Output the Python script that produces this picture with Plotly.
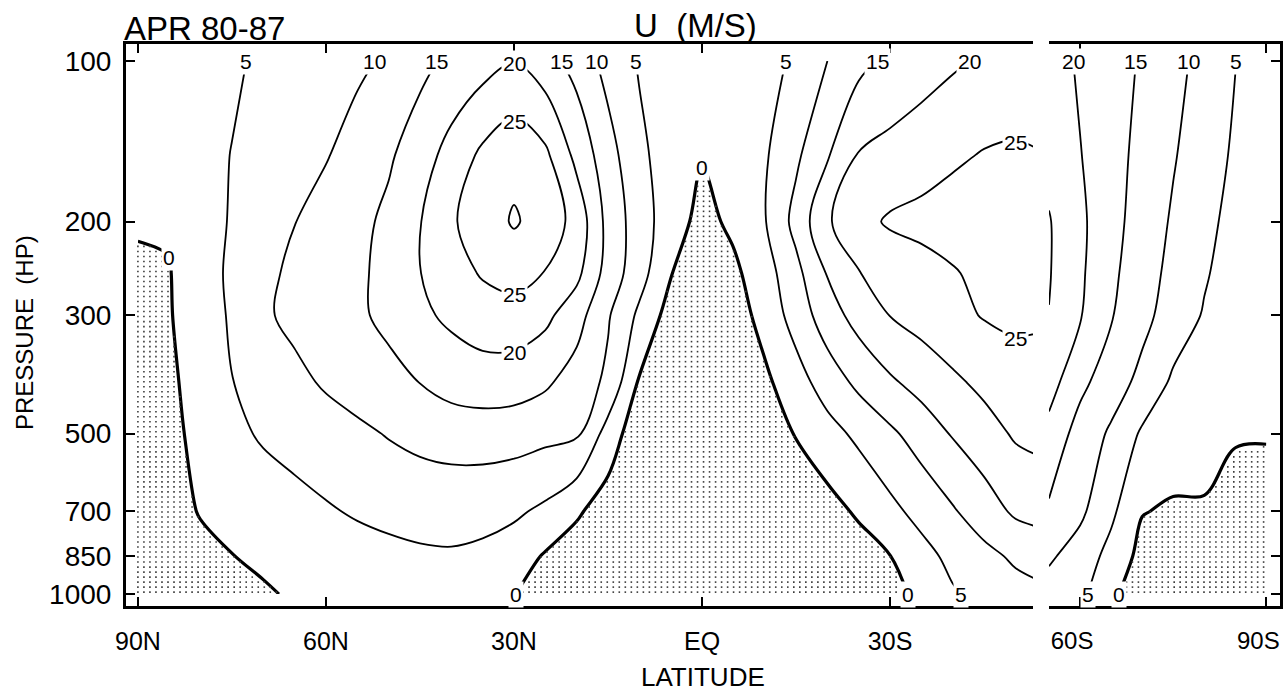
import numpy as np
import plotly.graph_objects as go

# Pressure levels (hPa) and latitudes (degrees, positive = north)
pressure = [100, 150, 200, 250, 300, 400, 500, 700, 850, 1000]
lat_main = [90, 85, 80, 75, 70, 65, 60, 55, 50, 45, 40, 35, 30, 25, 20, 15,
            10, 5, 0, -5, -10, -15, -20, -25, -30, -35, -40, -45, -50, -55]
lat_polar = [-55, -60, -65, -70, -75, -80, -85, -90]

# Zonal-mean zonal wind U (m/s), 90N-55S, one list per pressure level
u100 = [0.3, 1.7, 3.1, 4.4, 5.7, 6.8, 8.0, 9.1, 10.7, 13.6, 16.2, 18.0, 19.8, 17.0, 13.2, 8.2,
        4.6, 3.2, 1.8, 2.6, 4.0, 5.5, 10.0, 13.6, 16.0, 17.7, 19.3, 20.6, 21.8, 22.5]
u150 = [1.0, 2.3, 3.7, 5.1, 6.6, 8.1, 9.7, 11.9, 14.3, 17.7, 21.8, 26.0, 28.5, 26.0, 18.6, 12.0,
        6.0, 2.8, 0.3, 2.2, 4.4, 9.1, 14.5, 20.3, 21.6, 22.9, 24.2, 25.3, 25.6, 25.0]
u200 = [0.5, 0.4, 2.9, 5.4, 7.6, 9.9, 11.8, 13.6, 16.1, 19.8, 24.4, 27.5, 30.5, 28.0, 23.3, 13.4,
        7.4, 2.3, -1.5, 1.0, 4.7, 11.6, 19.4, 23.5, 25.6, 26.3, 27.2, 28.0, 27.6, 26.5]
u250 = [-0.8, -0.2, 3.0, 5.8, 8.8, 11.0, 12.5, 14.1, 16.5, 19.9, 22.8, 25.5, 27.0, 24.8, 21.3, 13.0,
        7.0, 0.2, -2.5, -1.0, 2.8, 8.6, 15.3, 19.8, 22.0, 23.3, 24.6, 26.2, 27.0, 26.5]
u300 = [-1.5, -0.3, 2.5, 5.6, 9.3, 11.2, 12.7, 14.2, 16.2, 19.0, 21.0, 22.5, 22.8, 21.2, 17.0, 10.5,
        4.0, -2.0, -4.0, -2.5, 1.8, 7.0, 12.7, 16.9, 20.1, 21.9, 23.7, 25.3, 26.0, 25.5]
u400 = [-2.5, -0.8, 1.8, 4.9, 6.9, 8.8, 10.6, 12.1, 13.5, 15.1, 17.0, 17.8, 17.5, 15.8, 12.8, 9.0,
        -0.5, -4.5, -5.5, -4.0, -1.0, 3.0, 7.3, 11.2, 14.3, 16.8, 19.1, 21.2, 22.8, 23.2]
u500 = [-2.5, -1.2, 1.3, 3.8, 5.6, 6.8, 7.9, 9.0, 10.3, 11.4, 12.1, 12.3, 12.0, 11.3, 10.8, 3.0,
        -3.5, -5.0, -5.0, -4.5, -3.0, 0.3, 3.2, 6.1, 9.1, 12.2, 15.4, 18.0, 20.6, 21.5]
u700 = [-2.0, -1.3, 0.2, 1.3, 2.4, 3.4, 4.5, 5.5, 6.3, 6.7, 6.8, 6.5, 5.8, 4.0, 0.7, -2.5,
        -4.0, -5.0, -5.5, -5.5, -5.0, -3.8, -1.8, 0.7, 3.7, 6.6, 9.5, 12.6, 15.8, 17.0]
u850 = [-1.5, -1.5, -0.9, -0.1, 0.8, 1.6, 2.4, 3.1, 3.7, 4.3, 4.5, 4.0, 2.5, -0.5, -2.5, -4.0,
        -5.0, -5.5, -5.5, -5.5, -5.0, -4.5, -3.5, -2.2, -0.1, 3.3, 6.3, 8.6, 10.8, 12.0]
u1000 = [-1.5, -1.5, -1.3, -1.0, -0.5, 0.5, 1.5, 2.2, 2.6, 2.6, 2.3, 1.5, 0.1, -1.5, -3.0, -4.5,
         -5.0, -5.0, -5.0, -5.0, -5.0, -4.5, -4.0, -3.0, -1.5, 1.2, 4.5, 6.5, 8.2, 9.3]

# Zonal-mean zonal wind U (m/s), 55S-90S
s100 = [22.5, 19.3, 17.0, 14.5, 11.5, 8.5, 5.1, 2.0]
s150 = [23.5, 20.2, 16.8, 13.6, 10.4, 7.3, 4.3, 1.5]
s200 = [25.3, 21.0, 16.6, 12.9, 9.4, 6.3, 3.5, 1.0]
s250 = [25.3, 20.8, 16.0, 12.2, 8.6, 5.5, 2.8, 0.8]
s300 = [24.9, 20.4, 15.4, 11.4, 7.8, 4.6, 2.3, 0.6]
s400 = [22.0, 16.3, 12.3, 8.7, 4.2, 2.4, 1.2, 0.5]
s500 = [18.5, 13.0, 9.3, 4.3, 2.5, 2.3, 0.4, 0.3]
s700 = [14.3, 11.0, 6.0, 0.2, -0.6, -0.6, -1.8, -1.9]
s850 = [10.7, 7.8, 3.4, -1.5, -1.5, -1.3, -1.5, -1.5]
s1000 = [8.0, 6.5, 0.5, -1.5, -1.0, -0.8, -0.8, -0.8]

# Axis ticks
lat_ticks_main = [90, 60, 30, 0, -30]
lat_labels_main = ["90N", "60N", "30N", "EQ", "30S"]
lat_ticks_polar = [-60, -90]
lat_labels_polar = ["60S", "90S"]
p_ticks = [100, 200, 300, 500, 700, 850, 1000]
p_labels = ["100", "200", "300", "500", "700", "850", "1000"]

z_main = np.array([u100, u150, u200, u250, u300, u400, u500, u700, u850, u1000])
z_polar = np.array([s100, s150, s200, s250, s300, s400, s500, s700, s850, s1000])

FONT = "Liberation Sans"
W, H = 1285, 694


def fx(px):
    return px / W


def fy(py):
    return 1 - py / H


def field_at(lats, z, lat_q, p_q):
    """Bilinear value of the gridded field (linear in latitude and pressure)."""
    lats = np.asarray(lats, float)
    n, m = len(lats), len(pressure)
    fi = np.interp(lat_q, lats[::-1], np.arange(n)[::-1].astype(float))
    fk = np.interp(p_q, pressure, np.arange(m).astype(float))
    j = np.clip(np.floor(fi).astype(int), 0, n - 2)
    i = np.clip(np.floor(fk).astype(int), 0, m - 2)
    s = fi - j
    t = fk - i
    return ((1 - t) * (1 - s) * z[i, j] + (1 - t) * s * z[i, j + 1]
            + t * (1 - s) * z[i + 1, j] + t * s * z[i + 1, j + 1])


def stipple(lats, z, lat_from, lat_to):
    """Regular dot grid covering the easterly (U < 0) regions."""
    lq = np.arange(lat_from, lat_to, -0.96)
    pq = 10 ** np.arange(2.0, 3.0001, 0.0094)
    L, P = np.meshgrid(lq, pq)
    L, P = L.ravel(), P.ravel()
    v = field_at(lats, z, L, P)
    keep = v < 0
    return L[keep], P[keep]


def crossings(coords, values, level):
    out = []
    for a, b, va, vb in zip(coords[:-1], coords[1:], values[:-1], values[1:]):
        if (va - level) * (vb - level) < 0:
            out.append(a + (level - va) / (vb - va) * (b - a))
    return out


fig = go.Figure()


def add_panel(lats, z, xa, ya, lat_from, lat_to):
    dl, dp = stipple(lats, z, lat_from, lat_to)
    fig.add_trace(go.Scatter(
        x=dl, y=dp, mode="markers", xaxis=xa, yaxis=ya,
        marker=dict(symbol="square", size=1.6, color="#3a3a3a", line=dict(width=0)),
        hoverinfo="skip", showlegend=False))
    # westerly isotachs every 5 m/s
    fig.add_trace(go.Contour(
        x=lats, y=pressure, z=z, xaxis=xa, yaxis=ya, showscale=False,
        autocontour=False, contours=dict(start=5, end=30, size=5, coloring="none"),
        line=dict(color="black", width=1.8, smoothing=1.0), hoverinfo="skip"))
    # zero wind line, drawn heavier
    fig.add_trace(go.Contour(
        x=lats, y=pressure, z=z, xaxis=xa, yaxis=ya, showscale=False,
        autocontour=False, contours=dict(start=0, end=0.5, size=5, coloring="none"),
        line=dict(color="black", width=3.2, smoothing=1.0), hoverinfo="skip"))


add_panel(lat_main, z_main, "x", "y", 90, -52.6)
add_panel(lat_polar, z_polar, "x2", "y2", -55, -90.01)

# Isotach labels: where each line meets the top or bottom of the section,
# and along selected latitude columns for closed lines
labels = []


def lab(xref, yref, lat, p, level):
    labels.append(dict(
        x=lat, y=np.log10(p), xref=xref, yref=yref, text=str(level), showarrow=False,
        font=dict(family=FONT, size=21, color="black"), bgcolor="white", borderpad=1))


for lvl in [5, 10, 15, 20, 25]:
    for la in crossings(lat_main, u100, lvl):
        if la > -52:
            lab("x", "y", la, 100, lvl)
    for la in crossings(lat_polar, s100, lvl):
        lab("x2", "y2", la, 100, lvl)
for lvl in [0, 5]:
    for la in crossings(lat_main, u1000, lvl):
        if la < 60:
            lab("x", "y", la, 1000, lvl)
    for la in crossings(lat_polar, s1000, lvl):
        lab("x2", "y2", la, 1000, lvl)
for col_lat, lvls in [(30, [20, 25]), (0, [0]), (85, [0]), (-50, [25])]:
    j = lat_main.index(col_lat)
    col = z_main[:, j]
    for lvl in lvls:
        for p in crossings(pressure, col, lvl):
            lab("x", "y", col_lat, p, lvl)

texts = [
    dict(text="APR 80-87", x=fx(122), y=fy(29), xanchor="left", size=33),
    dict(text="U  (M/S)", x=fx(695), y=fy(26), xanchor="center", size=33),
    dict(text="LATITUDE", x=fx(703), y=fy(677), xanchor="center", size=26),
]
for t in texts:
    labels.append(dict(text=t["text"], x=t["x"], y=t["y"], xref="paper", yref="paper",
                       xanchor=t["xanchor"], yanchor="middle", showarrow=False,
                       font=dict(family=FONT, size=t["size"], color="black")))
labels.append(dict(text="PRESSURE  (HP)", x=fx(24), y=fy(333), xref="paper", yref="paper",
                   textangle=-90, showarrow=False, xanchor="center", yanchor="middle",
                   font=dict(family=FONT, size=24, color="black")))

y_dom = [fy(606), fy(44)]
y_range = [np.log10(1053), np.log10(92.9)]
axis_common = dict(showgrid=False, zeroline=False, showline=True, linecolor="black",
                   linewidth=3, ticks="inside", tickcolor="black", tickwidth=2, ticklen=9)

fig.update_layout(
    width=W, height=H, margin=dict(l=0, r=0, t=0, b=0),
    paper_bgcolor="white", plot_bgcolor="white", template="none",
    showlegend=False, hovermode=False,
    xaxis=dict(domain=[fx(126), fx(1033)], range=[91.9, -52.8], anchor="y",
               tickvals=lat_ticks_main, ticktext=lat_labels_main, mirror="ticks",
               tickfont=dict(family=FONT, size=25, color="black"), ticklabelstandoff=11,
               **axis_common),
    yaxis=dict(domain=y_dom, type="log", range=y_range, anchor="x",
               tickvals=p_ticks, ticktext=p_labels, mirror=False,
               tickfont=dict(family=FONT, size=28, color="black"), ticklabelstandoff=6,
               **axis_common),
    xaxis2=dict(domain=[fx(1049), fx(1280)], range=[-55.0, -92.2], anchor="y2",
                tickvals=lat_ticks_polar, ticktext=lat_labels_polar, mirror="ticks",
                tickfont=dict(family=FONT, size=24, color="black"), ticklabelstandoff=11,
                ticklabelshift=8, ticklabeloverflow="allow", **axis_common),
    yaxis2=dict(domain=y_dom, type="log", range=y_range, anchor="x2", side="right",
                tickvals=p_ticks, showticklabels=False, mirror=False, **axis_common),
    annotations=labels,
)

fig.write_html("out.html")
